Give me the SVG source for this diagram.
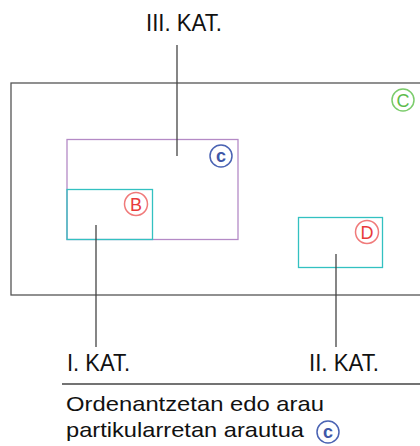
<svg xmlns="http://www.w3.org/2000/svg" width="420" height="446" viewBox="0 0 420 446">
  <style>
    .lbl { font-family: "Liberation Sans", Arial, sans-serif; fill: #111; }
    .cat { font-size: 23px; }
    .body { font-size: 21px; }
    .frame { fill: none; stroke: #555; stroke-width: 1.3; }
    .purple { fill: none; stroke: #b48ac6; stroke-width: 1.3; }
    .teal { fill: none; stroke: #33c1c1; stroke-width: 1.3; }
    .lead { stroke: #444; stroke-width: 1.3; fill: none; }
    .badge circle { fill: none; stroke-width: 1.5; }
    .badge text { font-family: "Liberation Sans", Arial, sans-serif; font-size: 18px; text-anchor: middle; }
  </style>

  <rect width="420" height="446" fill="#fff"/>

  <!-- outer zone (runs off the right edge) -->
  <g id="zone-outer">
    <rect class="frame" x="11" y="83" width="440" height="212"/>
    <g class="badge">
      <circle cx="403" cy="100" r="11" stroke="#7ccc6c"/>
      <text x="403" y="106.5" fill="#5dbb4c">C</text>
    </g>
  </g>

  <!-- category C zone -->
  <g id="zone-c">
    <rect class="purple" x="67" y="139.5" width="171" height="100"/>
    <g class="badge">
      <circle cx="221" cy="156" r="11" stroke="#4a63b3"/>
      <text x="221" y="161.5" fill="#3f57a8" font-weight="bold" font-size="16">c</text>
    </g>
  </g>

  <!-- category B zone -->
  <g id="zone-b">
    <rect class="teal" x="67" y="189.5" width="85.5" height="50"/>
    <g class="badge">
      <circle cx="136" cy="204" r="11.5" stroke="#f07a7a"/>
      <text x="136" y="210.5" fill="#e83a3a">B</text>
    </g>
  </g>

  <!-- category D zone -->
  <g id="zone-d">
    <rect class="teal" x="298.5" y="217.5" width="84" height="50"/>
    <g class="badge">
      <circle cx="367" cy="232" r="11.5" stroke="#f07a7a"/>
      <text x="367" y="238.5" fill="#e83a3a">D</text>
    </g>
  </g>

  <!-- leader lines -->
  <g id="connectors">
    <line class="lead" x1="177" y1="45" x2="177" y2="156"/>
    <line class="lead" x1="96" y1="225" x2="96" y2="347"/>
    <line class="lead" x1="336" y1="254" x2="336" y2="347"/>
    <line class="lead" x1="62" y1="384" x2="420" y2="384" stroke="#555"/>
  </g>

  <!-- labels -->
  <g id="label-iii">
    <text class="lbl cat" x="146" y="31" textLength="76" lengthAdjust="spacingAndGlyphs">III. KAT.</text>
  </g>
  <g id="label-i">
    <text class="lbl cat" x="67" y="371" textLength="63" lengthAdjust="spacingAndGlyphs">I. KAT.</text>
  </g>
  <g id="label-ii">
    <text class="lbl cat" x="309" y="371" textLength="70" lengthAdjust="spacingAndGlyphs">II. KAT.</text>
  </g>

  <g id="note">
    <text class="lbl body" x="66" y="411" textLength="258" lengthAdjust="spacingAndGlyphs">Ordenantzetan edo arau</text>
    <text class="lbl body" x="66" y="437" textLength="238" lengthAdjust="spacingAndGlyphs">partikularretan arautua</text>
    <g class="badge">
      <circle cx="328" cy="432" r="11" stroke="#4a63b3"/>
      <text x="328" y="437.5" fill="#3f57a8" font-weight="bold" font-size="16">c</text>
    </g>
  </g>
</svg>
